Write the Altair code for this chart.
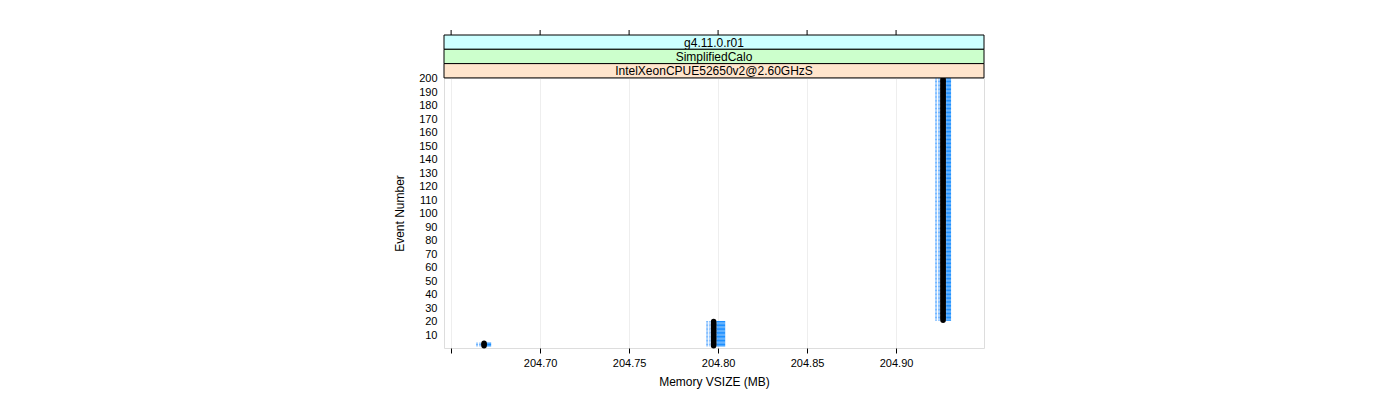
import altair as alt
import pandas as pd

# ---- data ----
cluster_x = [204.6685, 204.7975, 204.9264]      # memory VSIZE (MB) of each group
cluster_first = [2, 2, 21]                      # first event number in group
cluster_last = [4, 20, 200]                     # last event number in group
err_lo_outer = [0.0045, 0.0042, 0.0045]
err_lo_inner = [0.0017, 0.0017, 0.0017]
err_hi_inner = [0.0012, 0.0015, 0.0017]
err_hi_outer = [0.0040, 0.0065, 0.0045]

x_ticks = [204.65, 204.70, 204.75, 204.80, 204.85, 204.90]
y_ticks = list(range(10, 201, 10))
strip_labels = ["g4.11.0.r01", "SimplifiedCalo", "IntelXeonCPUE52650v2@2.60GHzS"]
strip_colors = ["#CCFFFF", "#CCFFCC", "#FFE5CC"]

rows = []
for i, xc in enumerate(cluster_x):
    for ev in range(cluster_first[i], cluster_last[i] + 1):
        rows.append({
            "event": ev,
            "mem": xc,
            "lo1": xc - err_lo_outer[i],
            "lo2": xc - err_lo_inner[i],
            "hi1": xc + err_hi_inner[i],
            "hi2": xc + err_hi_outer[i],
        })
df = pd.DataFrame(rows)

FONT = "Liberation Sans"
W, H = 540, 270
xdom = [204.646, 204.9494]
ydom = [0.4, 200.6]

xscale = alt.Scale(domain=xdom, nice=False, zero=False)
yscale = alt.Scale(domain=ydom, nice=False, zero=False)

xaxis = alt.Axis(
    values=x_ticks, format=".2f", title="Memory VSIZE (MB)",
    labelExpr="datum.value < 204.66 ? '' : datum.label",
    grid=True, gridColor="#EEEEEE", gridWidth=1,
    tickSize=5, tickColor="#000000", domain=False,
    labelFont=FONT, labelFontSize=11, labelColor="#000000", labelPadding=4,
    labelOverlap=False,
    titleFont=FONT, titleFontSize=12, titleFontWeight="normal", titleColor="#000000",
    titlePadding=8,
)
yaxis = alt.Axis(
    values=y_ticks, title="Event Number", grid=False, ticks=False, domain=False,
    labelFont=FONT, labelFontSize=11, labelColor="#000000", labelPadding=7,
    labelOverlap=False, labelBound=False, labelFlush=False,
    titleFont=FONT, titleFontSize=12, titleFontWeight="normal", titleColor="#000000",
    titlePadding=12,
)

base = alt.Chart(df)

lo_rules = base.mark_rule(color="#6FB4FF", strokeWidth=1, strokeDash=[2, 1]).encode(
    x=alt.X("lo1:Q", scale=xscale, axis=xaxis),
    x2="lo2:Q",
    y=alt.Y("event:Q", scale=yscale, axis=yaxis),
)
hi_rules = base.mark_rule(color="#1E90FF", strokeWidth=1.2).encode(
    x=alt.X("hi1:Q", scale=xscale, axis=xaxis),
    x2="hi2:Q",
    y=alt.Y("event:Q", scale=yscale, axis=yaxis),
)
dots = base.mark_circle(color="#000000", size=30, opacity=1).encode(
    x=alt.X("mem:Q", scale=xscale, axis=xaxis),
    y=alt.Y("event:Q", scale=yscale, axis=yaxis),
)

layers = [lo_rules, hi_rules, dots]

# top ticks
tick_df = pd.DataFrame({"t": x_ticks})
top_ticks = alt.Chart(tick_df).mark_rule(color="#000000", strokeWidth=1).encode(
    x=alt.X("t:Q", scale=xscale, axis=xaxis),
    y=alt.value(-48), y2=alt.value(-43),
)
layers.append(top_ticks)

# strips
strip_h = 14.3
for i, (lab, col) in enumerate(zip(strip_labels, strip_colors)):
    y0 = -43 + strip_h * i
    sdf = pd.DataFrame({"label": [lab]})
    rect = alt.Chart(sdf).mark_rect(fill=col, stroke="#000000", strokeWidth=1).encode(
        x=alt.value(0), x2=alt.value(W), y=alt.value(y0), y2=alt.value(y0 + strip_h)
    )
    txt = alt.Chart(sdf).mark_text(
        font=FONT, fontSize=12, color="#000000", baseline="middle", align="center"
    ).encode(text="label:N", x=alt.value(W / 2), y=alt.value(y0 + strip_h / 2 + 0.5))
    layers += [rect, txt]

chart = (
    alt.layer(*layers)
    .properties(
        width=W, height=H,
        autosize=alt.AutoSizeParams(type="none"),
        padding={"left": 444, "top": 78, "right": 1400 - 444 - W, "bottom": 400 - 78 - H},
    )
    .configure_view(stroke="#000000", strokeWidth=1)
    .configure_axis(labelOverlap=False)
    .configure_axisY(labelOverlap=False)
    .configure(background="white")
)

chart.save("out.html", embed_options={"renderer": "svg", "actions": False})
